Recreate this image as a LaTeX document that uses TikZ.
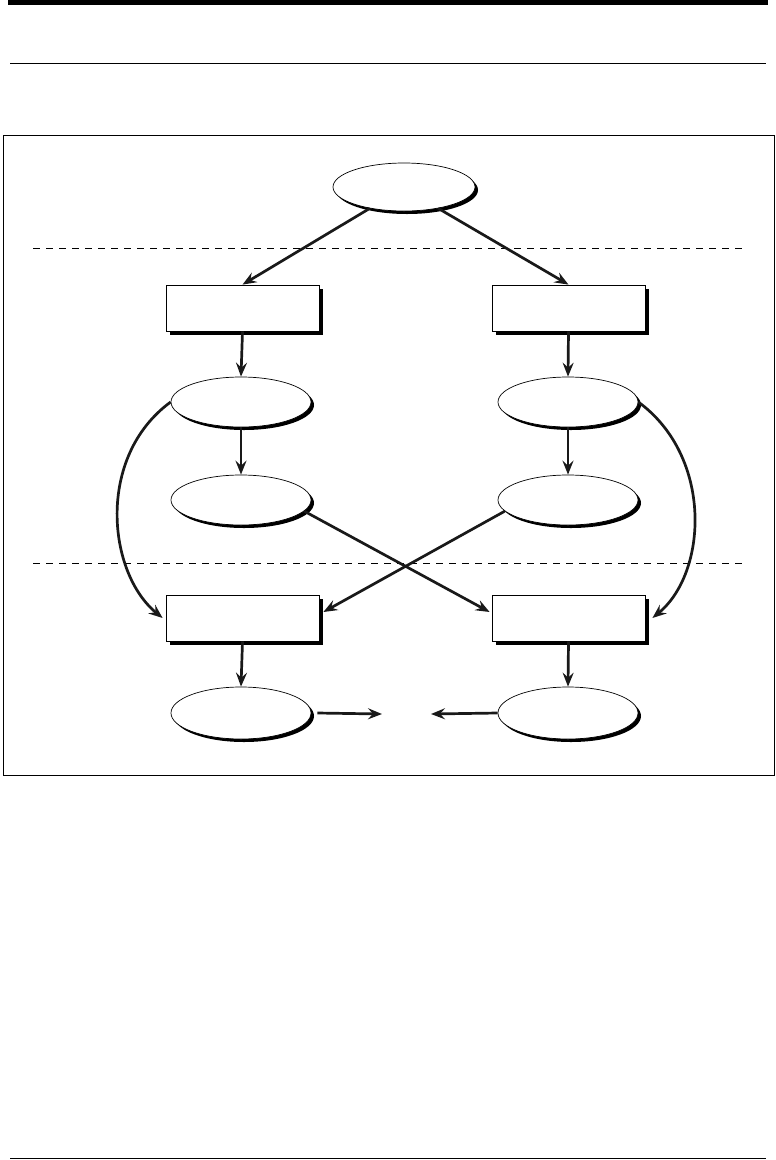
\documentclass[tikz,border=0pt]{standalone}
\usepackage{tikz}
\usetikzlibrary{arrows.meta, shapes, shadows, positioning}

\begin{document}
\begin{tikzpicture}[x=1pt, y=-1pt,
    step box/.style={draw, fill=white, line width=0.8pt, inner sep=0pt,
        minimum width=153pt, minimum height=46pt,
        drop shadow={shadow xshift=3.5pt, shadow yshift=-4pt, fill=black, opacity=1}},
    state/.style={draw, fill=white, shape=ellipse, line width=0.7pt, inner sep=0pt,
        minimum width=140pt, minimum height=50pt,
        drop shadow={shadow xshift=3pt, shadow yshift=-3pt, fill=black, opacity=1}},
    flow/.style={-{Stealth[length=14pt, width=11pt, inset=5pt]}, line width=2.7pt, color=black!90},
    layer/.style={dash pattern=on 7pt off 6pt, line width=0.8pt}
]
        \useasboundingbox (0,0) rectangle (776,1160);

        % page rules and frame
        \fill (8,0) rectangle (768,5);
        \draw[line width=1pt] (10,63) -- (766,63);
        \draw[line width=1.2pt] (10,1158.5) -- (766,1158.5);
        \draw[line width=0.8pt] (3,135) rectangle (774,775);

        \draw[layer] (33,248) -- (745,248);
        \draw[layer] (33,563) -- (745,563);

        \node[state, minimum width=142pt, minimum height=48pt, name=src] at(404,187) {};

        \node[step box, name=boxA] at(242.5,308) {};
        \node[step box, name=boxB] at(568.5,308) {};

        \node[state, name=ellA1] at(241,402) {};
        \node[state, name=ellB1] at(568,402) {};
        \node[state, name=ellA2] at(241,500) {};
        \node[state, name=ellB2] at(568,500) {};

        \node[step box, name=boxC] at(242.5,618) {};
        \node[step box, name=boxD] at(568.5,618) {};

        \node[state, minimum height=52pt, name=outA] at(241,713) {};
        \node[state, minimum height=52pt, name=outB] at(568,713) {};

        \coordinate (mergeL) at(382,714);
        \coordinate (mergeR) at(431,714);

        \draw[flow] (src.212) -- (boxA.north);
        \draw[flow] (src.-32) -- (boxB.north);

        \draw[flow] (boxA.south) -- (ellA1.north);
        \draw[flow] (boxB.south) -- (ellB1.north);
        \draw[flow] (ellA1.south) -- (ellA2.north);
        \draw[flow] (ellB1.south) -- (ellB2.north);

        \draw[flow] (ellA1.west) .. controls +(-75,55) and +(-55,-45) .. ([xshift=-3pt]boxC.west);
        \draw[flow] (ellB1.east) .. controls +(75,55) and +(55,-45) .. ([xshift=7pt]boxD.east);

        \draw[flow] (ellA2.-10) -- ([xshift=-2pt, yshift=6pt]boxD.west);
        \draw[flow] (ellB2.190) -- ([xshift=4pt, yshift=6pt]boxC.east);

        \draw[flow] (boxC.south) -- (outA.north);
        \draw[flow] (boxD.south) -- (outB.north);

        \draw[flow] ([xshift=6pt]outA.east) -- (mergeL);
        \draw[flow] (outB.west) -- (mergeR);
\end{tikzpicture}
\end{document}
